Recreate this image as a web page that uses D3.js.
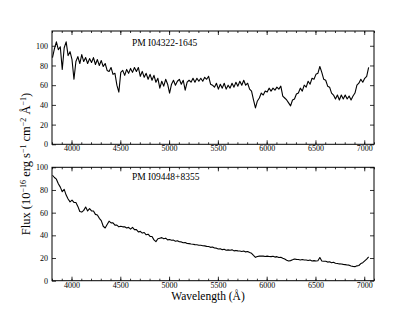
<!DOCTYPE html>
<html><head><meta charset="utf-8">
<script src="https://cdn.jsdelivr.net/npm/d3@7"></script>
<style>
body{margin:0;background:#fff}
text{font-family:"Liberation Serif",serif;fill:#000}
</style>
</head><body>
<svg id="c" width="415" height="312"></svg>
<script>
// ---- data ----
const waveStart = 3805;   // Å, first sample
const waveStep = 20;      // Å between samples
const fluxTop = [
  88,97,104,96,99,76,98,104,90,94,      // 3805-3985
  86,66,84,89,82,91,84,88,82,87,        // 4005-4185
  83,88,81,86,80,85,79,82,75,74,        // 4205-4385
  78,71,72,60,53,73,75,70,76,72,        // 4405-4585
  77,73,78,74,78,69,74,68,72,66,        // 4605-4785
  71,65,70,63,67,57,64,59,66,61,        // 4805-4985
  52,61,65,60,64,66,61,65,55,63,        // 5005-5185
  65,63,67,63,67,64,67,64,68,66,        // 5205-5385
  69,61,60,58,62,56,61,57,62,56,        // 5405-5585
  60,57,62,58,63,59,64,60,65,60,        // 5605-5785
  62,56,54,45,37,44,47,52,50,54,        // 5805-5985
  53,57,54,57,55,58,56,59,49,47,        // 6005-6185
  45,42,39,45,46,51,52,57,54,60,        // 6205-6385
  58,64,61,67,66,71,72,79,73,66,        // 6405-6585
  65,59,58,52,50,46,50,45,50,46,        // 6605-6785
  50,46,49,45,49,52,60,62,66,63,        // 6805-6985
  67,69,78                              // 7005-7045
];
const fluxBottom = [
  93,91,89.5,85.5,82.5,78.5,80.5,75.5,72,69.5,  // 3805-3985
  71,69,69,65.5,61,60.5,62,65,61.5,63.5,        // 4005-4185
  61.5,61.5,58.5,58,55,53,48,46.5,49.5,52.5,    // 4205-4385
  51,51,49,49,47.5,48,47.5,47.5,46.5,47,        // 4405-4585
  45.5,47,45,45,43,43.5,42,42.5,40.5,41,        // 4605-4785
  39,39,36,34.5,37,37.5,38,37,37.5,36,          // 4805-4985
  36.3,35.7,35.8,34.8,35.2,34.3,34.2,33.4,33.7,32.8, // 5005-5185
  32.7,32.3,32.2,31.8,31.7,31.3,31.2,30.8,30.7,30.3, // 5205-5385
  30.2,29.4,29.7,28.8,28.7,27.9,28.2,27.4,27.7,26.9, // 5405-5585
  27.2,26.8,27.2,26.3,26.7,26.3,26.2,25.8,26.2,25.4, // 5605-5785
  25.7,24.8,24.2,22.3,20.6,21.4,21.7,21.8,21.7,21.3, // 5805-5985
  21.7,21.3,21.2,21.6,20.8,21.2,20.4,20.7,19.8,19.1, // 6005-6185
  18.1,17.4,17.7,18.4,19.2,18.8,18.7,18.3,18.7,18.3, // 6205-6385
  18.2,17.8,18.2,17.4,17.7,17.3,17.6,20.5,17.4,17.1, // 6405-6585
  17.2,16.4,16.7,15.9,16.2,15.4,15.2,14.8,14.7,14.4, // 6605-6785
  14.2,13.8,13.7,12.9,12.6,12.4,13.1,13.4,15.1,15.9, // 6805-6985
  17.5,19,21                                          // 7005-7045
];
const panelLabels = ["PM I04322-1645", "PM I09448+8355"];
const xMajorTicks = [4000, 4500, 5000, 5500, 6000, 6500, 7000];
const xMinorTicks = d3.range(3800, 7101, 100);
const yTicks = [0, 20, 40, 60, 80, 100];
const xDomain = [3800, 7100];
const yMaxTop = 115, yMaxBottom = 100;

// ---- layout ----
const svg = d3.select("#c");
const L = 52, R = 374;
const x = d3.scaleLinear().domain(xDomain).range([L, R]);
const panels = [
  {top: 31, bottom: 144.3, ymax: yMaxTop, data: fluxTop, label: panelLabels[0], labelY: 46},
  {top: 167.3, bottom: 280.7, ymax: yMaxBottom, data: fluxBottom, label: panelLabels[1], labelY: 180}
];

panels.forEach(p => {
  const y = d3.scaleLinear().domain([0, p.ymax]).range([p.bottom, p.top]);
  const g = svg.append("g");
  const fs = "8px";
  g.append("g").attr("transform", `translate(0,${p.bottom})`)
    .call(d3.axisBottom(x).tickValues(xMinorTicks).tickSize(-2).tickFormat(""));
  g.append("g").attr("transform", `translate(0,${p.top})`)
    .call(d3.axisTop(x).tickValues(xMinorTicks).tickSize(-2).tickFormat(""));
  g.append("g").attr("transform", `translate(0,${p.bottom})`)
    .call(d3.axisBottom(x).tickValues(xMajorTicks).tickSize(-4).tickPadding(1.5).tickFormat(d3.format("d")))
    .selectAll("text").style("font-size", fs);
  g.append("g").attr("transform", `translate(0,${p.top})`)
    .call(d3.axisTop(x).tickValues(xMajorTicks).tickSize(-4).tickFormat(""));
  g.append("g").attr("transform", `translate(${L},0)`)
    .call(d3.axisLeft(y).tickValues(yTicks).tickSize(-4).tickPadding(4))
    .selectAll("text").style("font-size", fs);
  g.append("g").attr("transform", `translate(${R},0)`)
    .call(d3.axisRight(y).tickValues(yTicks).tickSize(-4).tickFormat(""));
  g.selectAll(".domain").remove();
  g.selectAll(".tick line").attr("stroke", "#000").attr("stroke-width", 0.8);
  g.selectAll(".tick text").attr("font-family", null).attr("fill", "#000");

  g.append("path").datum(p.data)
    .attr("fill", "none").attr("stroke", "#000").attr("stroke-width", 1.1)
    .attr("stroke-linejoin", "round")
    .attr("d", d3.line().x((d, i) => x(waveStart + i * waveStep)).y(d => y(d)));

  g.append("rect").attr("x", L).attr("y", p.top)
    .attr("width", R - L).attr("height", p.bottom - p.top)
    .attr("fill", "none").attr("stroke", "#000").attr("stroke-width", 1);

  g.append("text").attr("x", 132).attr("y", p.labelY)
    .style("font-size", "9.5px").text(p.label);
});

svg.append("text").attr("x", 208).attr("y", 300).attr("text-anchor", "middle")
  .style("font-size", "11.5px").text("Wavelength (Å)");

const yl = svg.append("text").attr("transform", "translate(30,164) rotate(-90)")
  .attr("text-anchor", "middle").style("font-size", "12.5px");
const parts = [["Flux (10", false], ["−16", true], [" erg s", false], ["−1", true],
               [" cm", false], ["−2", true], [" Å", false], ["−1", true], [")", false]];
parts.forEach(([t, sup]) => {
  const ts = yl.append("tspan").text(t);
  if (sup) ts.attr("baseline-shift", "super").style("font-size", "8px");
});
</script>
</body></html>
